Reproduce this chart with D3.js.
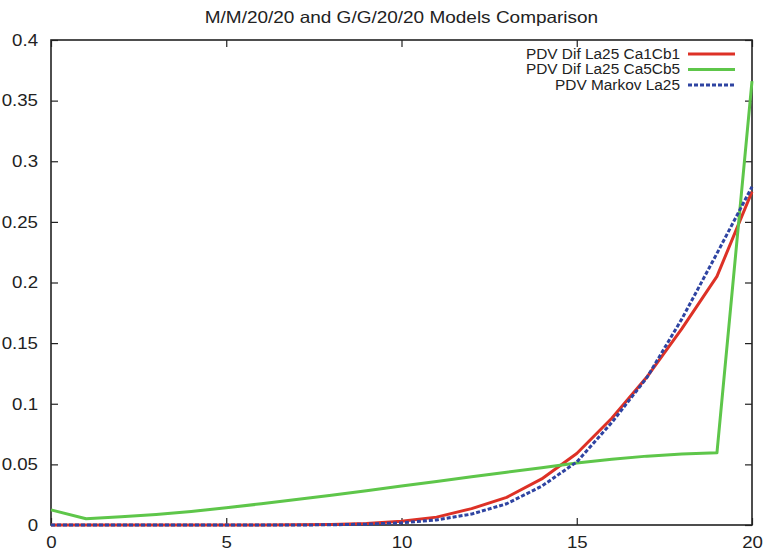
<!DOCTYPE html>
<html>
<head>
<meta charset="utf-8">
<script src="https://cdn.jsdelivr.net/npm/d3@7"></script>
<style>
  body { margin: 0; background: #fff; }
  svg text { font-family: "Liberation Sans", Arial, sans-serif; fill: #222; }
</style>
</head>
<body>
<div id="chart"></div>
<script>
// x = number of customers in system, 0..20
var states = d3.range(0, 21);

var difCa1Cb1 = [0, 0, 0, 0, 0, 0, 0, 0.0002, 0.0005, 0.0013, 0.003, 0.0065, 0.0135, 0.0228, 0.038, 0.059, 0.088, 0.122, 0.162, 0.205, 0.275];
var difCa5Cb5 = [0.0125, 0.0052, 0.0068, 0.0087, 0.0112, 0.0143, 0.0175, 0.021, 0.0245, 0.0283, 0.0322, 0.0358, 0.0398, 0.0435, 0.0472, 0.0512, 0.0542, 0.0568, 0.0585, 0.0595, 0.366];
var markov = [0, 0, 0, 0, 0, 0, 0, 0, 0.0002, 0.0007, 0.0018, 0.0042, 0.009, 0.0175, 0.032, 0.052, 0.0845, 0.1215, 0.17, 0.224, 0.279];

var seriesNames = ["PDV Dif La25 Ca1Cb1", "PDV Dif La25 Ca5Cb5", "PDV Markov La25"];
var xTicks = [0, 5, 10, 15, 20];
var yTicks = [0, 0.05, 0.1, 0.15, 0.2, 0.25, 0.3, 0.35, 0.4];

var W = 766, H = 550;
var margin = {top: 40, right: 14, bottom: 25, left: 51};
var width = W - margin.left - margin.right, height = H - margin.top - margin.bottom;

var svg = d3.select("#chart").append("svg")
    .attr("width", W)
    .attr("height", H);

var g = svg.append("g")
    .attr("transform", "translate(" + margin.left + "," + margin.top + ")");

var x = d3.scaleLinear().domain([0, 20]).range([0, width]);
var y = d3.scaleLinear().domain([0, 0.4]).range([height, 0]);

svg.append("text")
    .attr("x", margin.left + width / 2)
    .attr("y", 23)
    .attr("text-anchor", "middle")
    .attr("data-stretch", 1.15)
    .style("font-size", "16.5px")
    .text("M/M/20/20 and G/G/20/20 Models Comparison");

// axes: labels outside, ticks inward, mirrored on top/right
var fmt = d => d === 0 ? "0" : d3.format("~g")(d);

var xAxis = g.append("g")
    .attr("transform", "translate(0," + height + ")")
    .call(d3.axisBottom(x).tickValues(xTicks).tickSize(-7).tickPadding(11).tickFormat(fmt));
var xAxisTop = g.append("g")
    .call(d3.axisTop(x).tickValues(xTicks).tickSize(-7).tickFormat(""));
var yAxis = g.append("g")
    .call(d3.axisLeft(y).tickValues(yTicks).tickSize(-7).tickPadding(13).tickFormat(fmt));
var yAxisRight = g.append("g")
    .attr("transform", "translate(" + width + ",0)")
    .call(d3.axisRight(y).tickValues(yTicks).tickSize(-7).tickFormat(""));

[xAxis, xAxisTop, yAxis, yAxisRight].forEach(a => {
    a.select(".domain").remove();
    a.selectAll(".tick line").attr("stroke", "#222").attr("stroke-width", 1.2);
    a.selectAll("text").style("font-size", "16.5px").attr("fill", "#222").attr("data-stretch", 1.13);
});

g.append("rect")
    .attr("width", width)
    .attr("height", height)
    .attr("fill", "none")
    .attr("stroke", "#222")
    .attr("stroke-width", 1.6);

var series = [
    {name: seriesNames[0], values: difCa1Cb1, color: "#dd3126", dash: null},
    {name: seriesNames[1], values: difCa5Cb5, color: "#5ec64a", dash: null},
    {name: seriesNames[2], values: markov, color: "#2f44a2", dash: "4,2"}
];

var line = d3.line()
    .x((d, i) => x(states[i]))
    .y(d => y(d));

g.selectAll(".series")
    .data(series)
    .enter().append("path")
    .attr("class", "series")
    .attr("d", d => line(d.values))
    .attr("fill", "none")
    .attr("stroke", d => d.color)
    .attr("stroke-width", 3)
    .attr("stroke-dasharray", d => d.dash)
    .attr("stroke-linejoin", "round");

var legend = svg.append("g")
    .attr("transform", "translate(680,54)")
    .selectAll("g")
    .data(series)
    .enter().append("g")
    .attr("transform", (d, i) => "translate(0," + i * 15.5 + ")");

legend.append("text")
    .attr("text-anchor", "end")
    .attr("dy", "0.35em")
    .attr("data-stretch", 1.1)
    .style("font-size", "14px")
    .text(d => d.name);

legend.append("line")
    .attr("x1", 8)
    .attr("x2", 55)
    .attr("stroke", d => d.color)
    .attr("stroke-width", 3)
    .attr("stroke-dasharray", d => d.dash);

// the original lettering is a little wider than Liberation Sans
svg.selectAll("text").each(function () {
    var len = this.getComputedTextLength();
    var k = +this.getAttribute("data-stretch") || 1;
    if (len > 0) {
        d3.select(this)
            .attr("textLength", len * k)
            .attr("lengthAdjust", "spacingAndGlyphs");
    }
});
</script>
</body>
</html>
